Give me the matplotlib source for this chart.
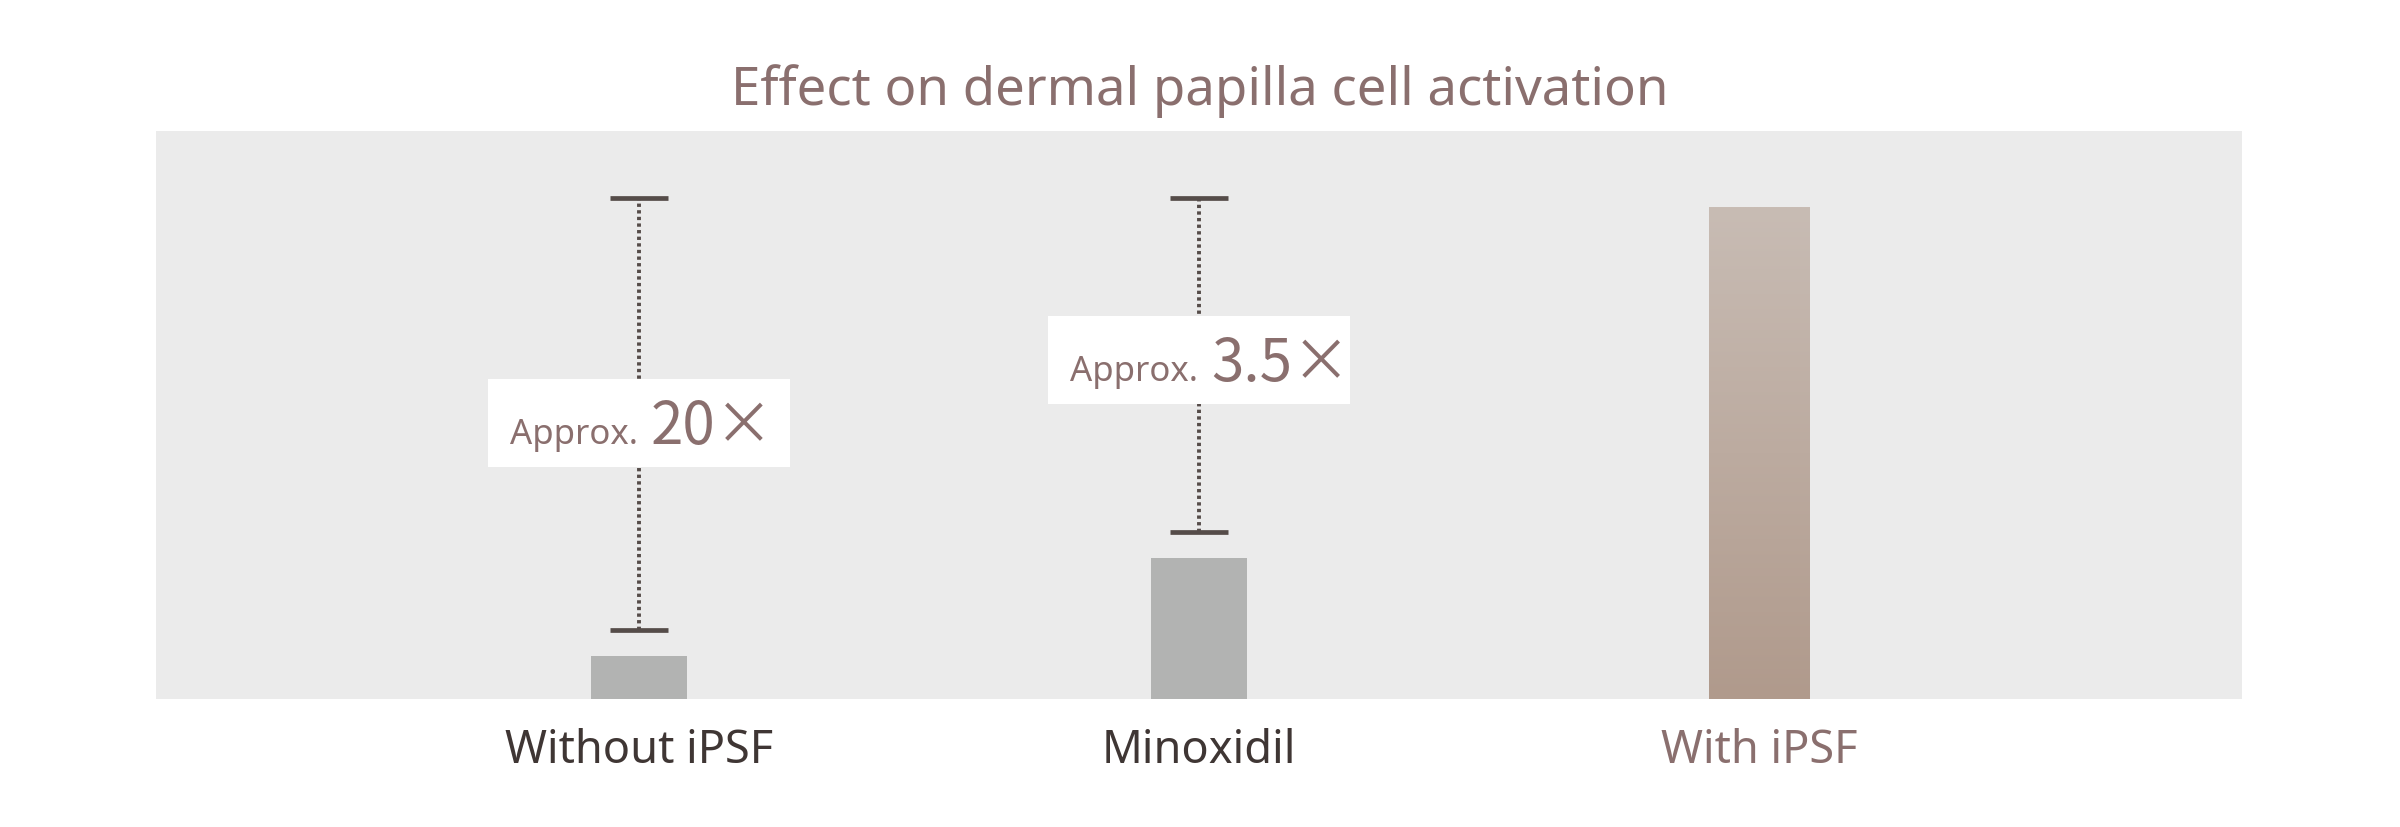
import numpy as np
import matplotlib
matplotlib.use("Agg")
import matplotlib.pyplot as plt
from matplotlib.patches import Rectangle
from matplotlib.colors import LinearSegmentedColormap

# ---- data ----
title = "Effect on dermal papilla cell activation"
categories = ["Without iPSF", "Minoxidil", "With iPSF"]
values = [8.7, 28.7, 100.0]            # relative activation (With iPSF = 100)
bracket_low = [14.0, 33.9]             # lower end of comparison brackets
bracket_high = [101.8, 101.8]          # upper end (level of With iPSF)
bracket_prefix = ["Approx.", "Approx."]
bracket_ratio = ["20×", "3.5×"]
bracket_label_y = [56.0, 68.9]         # vertical centre of the labels

# ---- styles ----
FONT = ["Noto Sans", "DejaVu Sans"]
FONT_NUM = ["Noto Sans CJK JP", "DejaVu Sans"]
MAUVE = "#8a6f6e"
DARK = "#3f3634"
LINE = "#554c49"
BG = "#ebebeb"
GRAY_BAR = "#b2b3b2"

W, H = 2400, 828
fig = plt.figure(figsize=(W / 100, H / 100), dpi=100)
ax_l, ax_r, ax_t, ax_b = 156, 2242, 132, 700
ax = fig.add_axes([ax_l / W, 1 - ax_b / H, (ax_r - ax_l) / W, (ax_b - ax_t) / H])
ax.set_facecolor(BG)
for s in ax.spines.values():
    s.set_visible(False)
ax.set_xticks([])
ax.set_yticks([])

x = np.arange(len(categories))
px_per_x = 560.0
ymax = 115.45
px_per_y = (ax_b - ax_t) / ymax
xlim = (-(639 - ax_l) / px_per_x, (ax_r - 639) / px_per_x)

widths = [0.17, 0.17, 0.18]
bars = ax.bar(x, values, width=widths, color=[GRAY_BAR, GRAY_BAR, "none"],
              edgecolor="none", zorder=2)

# gradient for With iPSF
cmap = LinearSegmentedColormap.from_list("g", ["#b09a8c", "#c8bcb4"])
b = bars[2]
grad = np.linspace(0, 1, 256).reshape(-1, 1)
im = ax.imshow(grad, cmap=cmap, origin="lower", aspect="auto",
               extent=[b.get_x(), b.get_x() + b.get_width(), 0, b.get_height()],
               zorder=2)
im.set_clip_path(b)
ax.set_xlim(*xlim)
ax.set_ylim(0, ymax)

# brackets
cap_half = 29 / px_per_x
for i in range(2):
    xi = x[i]
    ax.plot([xi, xi], [bracket_low[i], bracket_high[i]], color=LINE, lw=2.8,
            linestyle=(0, (0.85, 0.85)), zorder=3)
    for yv in (bracket_low[i], bracket_high[i]):
        ax.plot([xi - cap_half, xi + cap_half], [yv, yv], color=LINE, lw=3.4,
                solid_capstyle="butt", zorder=4)
    bw = 302 / px_per_x
    bh = 88 / px_per_y
    cx = xi
    cy = bracket_label_y[i]
    ax.add_patch(Rectangle((cx - bw / 2, cy - bh / 2), bw, bh, facecolor="white",
                           edgecolor="none", zorder=5))
    base = cy - bh / 2 + 24 / px_per_y
    ax.text(cx - 1 / px_per_x, base, bracket_prefix[i], ha="right", va="baseline",
            fontsize=25, color=MAUVE, family=FONT, zorder=6)
    ax.text(cx + 12 / px_per_x, base, bracket_ratio[i], ha="left", va="baseline",
            fontsize=42, color=MAUVE, family=FONT_NUM, zorder=6)

# category labels
label_colors = [DARK, DARK, MAUVE]
for xi, lab, c in zip(x, categories, label_colors):
    ax.text(xi, -63 / px_per_y, lab, ha="center", va="baseline", fontsize=32.5,
            color=c, family=FONT, clip_on=False)

fig.text(0.5, 1 - 105 / H, title, ha="center", va="baseline", fontsize=38,
         color=MAUVE, family=FONT)

fig.savefig("out.png", dpi=100, facecolor="white")
